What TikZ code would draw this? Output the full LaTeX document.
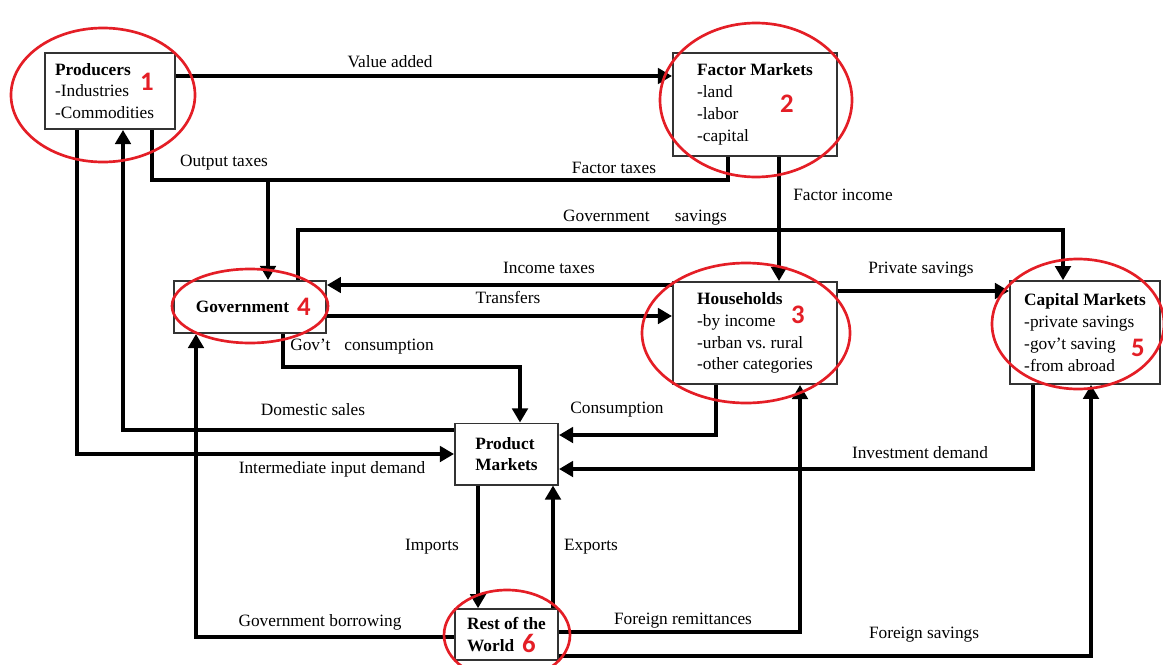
\documentclass[tikz,border=0pt]{standalone}
\usepackage{fontspec}
\setmainfont{Liberation Serif}
\newfontfamily\numfont{Carlito}
\usetikzlibrary{arrows.meta,positioning}
\definecolor{ringred}{RGB}{228,30,38}
\tikzset{
  box/.style={draw=black!80, line width=1.4pt, fill=white, align=left},
  lbl/.style={inner sep=1pt},
  wire/.style={line width=2.4pt},
  flow/.style={wire, -{Triangle[length=10pt,width=11pt]}},
  ring/.style={draw=ringred, line width=1.9pt},
  num/.style={text=ringred, font=\numfont\bfseries\fontsize{19}{19}\selectfont, inner sep=0pt}
}
\begin{document}
\begin{tikzpicture}[x=0.025cm, y=-0.025cm, font=\fontsize{12.3}{15.5}\selectfont]
\useasboundingbox (0,0) rectangle (1163,664);

\node[box, text width=78pt, inner xsep=7pt, minimum height=54pt] (prod) at (110,91)
  {\textbf{Producers}\\-Industries\\-Commodities};
\node[box, minimum width=116.7pt, minimum height=73pt] (fm) at (755,104.5)
  {\textbf{Factor Markets}\\-land\\-labor\\-capital};
\node[box, text width=77pt, inner xsep=15.5pt, minimum height=37pt] (gov) at (250,307)
  {\textbf{Government}};
\node[box, minimum width=116.7pt, minimum height=72.5pt] (hh) at (755,333)
  {\textbf{Households}\\-by income\\-urban vs.\ rural\\-other categories};
\node[box, minimum width=106.7pt, minimum height=73pt] (cm) at (1085,332.5)
  {\textbf{Capital Markets}\\-private savings\\-gov't saving\\-from abroad};
\node[box, minimum width=73.3pt, minimum height=43.4pt] (pm) at (506.5,454)
  {\textbf{Product}\\\textbf{Markets}};
\node[box, minimum width=73.3pt, minimum height=36pt] (row) at (506.5,634.5)
  {\textbf{Rest of the}\\\textbf{World}};

\coordinate (tx) at (268,180);
\coordinate (gs) at (298,230);
\coordinate (gc) at (520,367);
\coordinate (cs) at (716,435);
\coordinate (id) at (1033,469);
\coordinate (ds) at (123,430);
\coordinate (ii) at (77,454);
\coordinate (gb) at (196,637);
\coordinate (fr) at (800,632);
\coordinate (fs) at (1091,656);

\draw[flow] (prod.east |- 0,76) -- (fm.west |- 0,76);
\draw[wire] (prod.south -| 152,0) |- (tx) -| (fm.south -| 728,0);
\draw[flow] (tx) -- (gov.north -| tx);
\draw[flow] (fm.south -| 779,0) -- (hh.north -| 779,0);
\draw[flow] (gov.north -| gs) -- (gs) -| (cm.north -| 1063,0);
\draw[flow] (hh.west |- 0,285) -- (gov.east |- 0,285);
\draw[flow] (gov.east |- 0,316) -- (hh.west |- 0,316);
\draw[flow] (gov.south -| 283,0) |- (gc) -- (pm.north -| gc);
\draw[flow] (hh.east |- 0,291) -- (cm.west |- 0,291);
\draw[flow] (hh.south -| cs) |- (pm.east |- cs);
\draw[flow] (cm.south -| id) |- (pm.east |- id);
\draw[flow] (pm.west |- ds) -| (prod.south -| ds);
\draw[flow] (prod.south -| ii) |- (pm.west |- ii);
\draw[flow] (pm.south -| 478,0) -- (row.north -| 478,0);
\draw[flow] (row.north -| 553,0) -- (pm.south -| 553,0);
\draw[flow] (row.west |- gb) -| (gov.south -| gb);
\draw[flow] (row.east |- fr) -| (hh.south -| fr);
\draw[flow] (row.east |- fs) -| (cm.south -| fs);

\node[lbl] (vaL) at (390,62) {Value added};
\node[lbl] (otL) at (224,163) {Output taxes};
\node[lbl] (ftL) at (614,168) {Factor taxes};
\node[lbl] (fiL) at (843,195) {Factor income};
\node[lbl] (gsL) at (645,218) {Government\hspace{18pt}savings};
\node[lbl] (itL) at (549,268) {Income taxes};
\node[lbl] (trL) at (508,297) {Transfers};
\node[lbl] (psL) at (921,270) {Private savings};
\node[lbl] (gcL) at (362,347) {Gov't\hspace{10pt}consumption};
\node[lbl] (dsL) at (313,410) {Domestic sales};
\node[lbl] (csL) at (617,410) {Consumption};
\node[lbl] (iiL) at (332,469) {Intermediate input demand};
\node[lbl] (idL) at (920,453) {Investment demand};
\node[lbl] (imL) at (432,547) {Imports};
\node[lbl] (exL) at (591,547) {Exports};
\node[lbl] (gbL) at (320,622) {Government borrowing};
\node[lbl] (frL) at (683,621) {Foreign remittances};
\node[lbl] (fsL) at (924,635) {Foreign savings};

\draw[ring] (103,95) ellipse [x radius=92, y radius=67];
\draw[ring] (756,100) ellipse [x radius=96, y radius=77];
\draw[ring] (746,333) ellipse [x radius=104, y radius=70];
\draw[ring] (250,306) ellipse [x radius=78, y radius=37];
\draw[ring] (1078,324) ellipse [x radius=86, y radius=65];
\draw[ring] (507,635) ellipse [x radius=63, y radius=45];

\node[num] (n1) at (147,82) {1};
\node[num] (n2) at (787,104) {2};
\node[num] (n3) at (798,315) {3};
\node[num] (n4) at (304,307) {4};
\node[num] (n5) at (1138,348) {5};
\node[num] (n6) at (529,643) {6};
\end{tikzpicture}
\end{document}
